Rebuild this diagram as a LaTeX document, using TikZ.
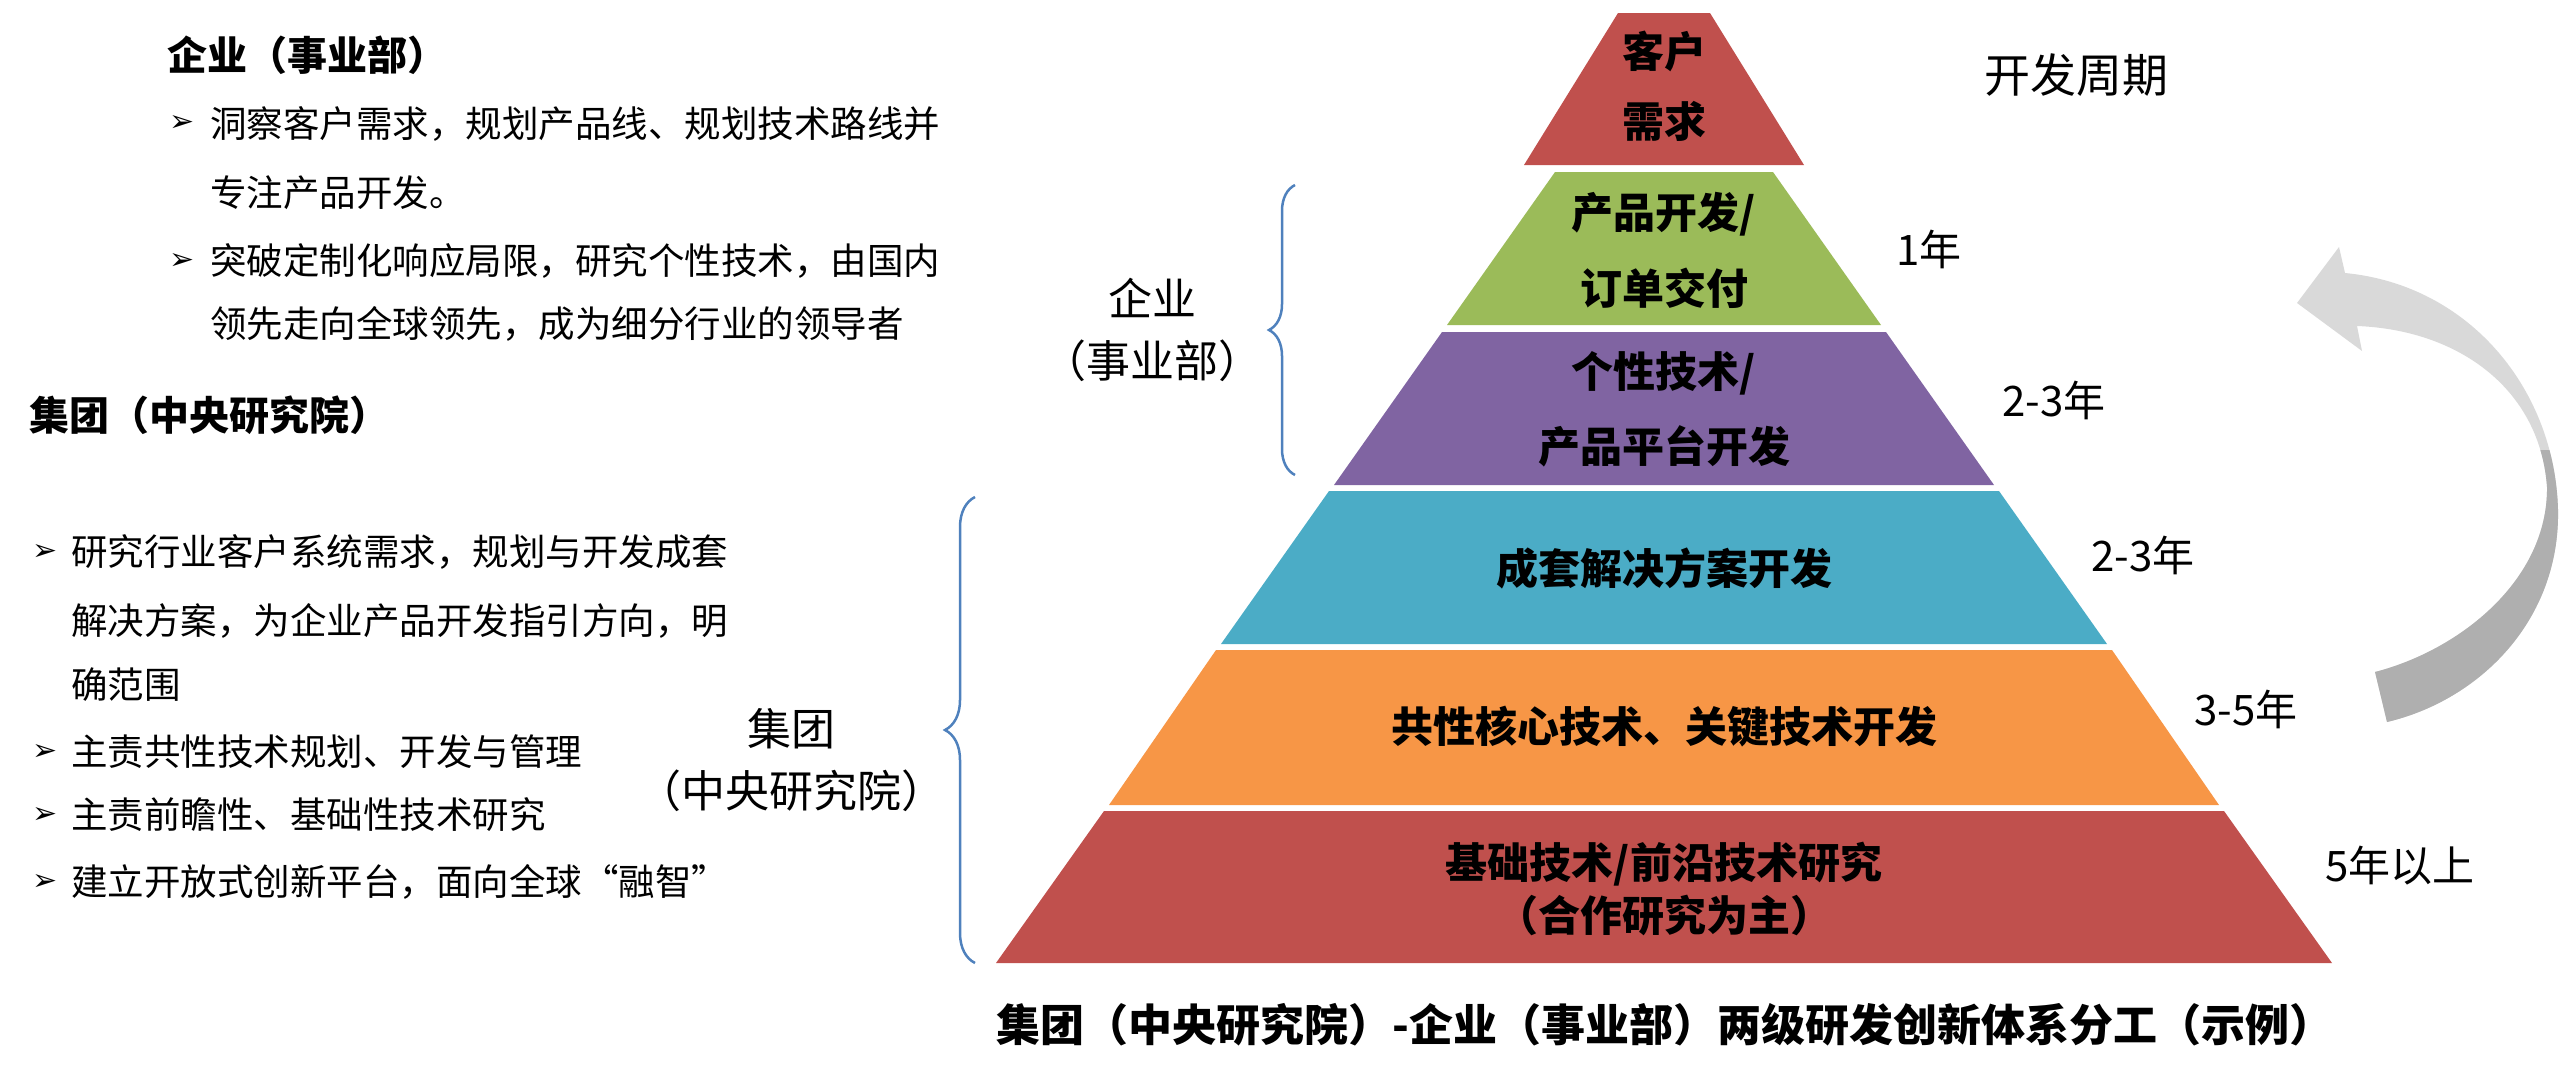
\documentclass[tikz,border=0pt]{standalone}
\usepackage{fontspec}
\setmainfont{Noto Sans CJK SC}
\newfontfamily\symf{DejaVu Sans}
\usetikzlibrary{decorations.pathreplacing}
\definecolor{lred}{HTML}{C0504D}
\definecolor{lgreen}{HTML}{9BBB59}
\definecolor{lpurple}{HTML}{8064A2}
\definecolor{lteal}{HTML}{4BACC6}
\definecolor{lorange}{HTML}{F79646}
\definecolor{bblue}{HTML}{4F81BD}
\definecolor{agray}{HTML}{D9D9D9}
\definecolor{dgray}{HTML}{AFAFAF}
\begin{document}
\begin{tikzpicture}[x=1pt,y=-1pt,
  lay/.style={font=\fontsize{42}{50}\selectfont\bfseries, align=center},
  yr/.style={font=\fontsize{42}{50}\selectfont},
  bl/.style={anchor=west, font=\fontsize{36.5}{44}\selectfont, inner sep=0pt},
  hd/.style={anchor=west, font=\fontsize{40}{48}\selectfont\bfseries, inner sep=0pt},
  bul/.style={anchor=west, font=\symf\fontsize{30}{36}\selectfont, inner sep=0pt},
  brc/.style={draw=bblue, line width=2.5pt, decorate},
  side/.style={font=\fontsize{44}{62}\selectfont, align=center}]
\useasboundingbox (0,0) rectangle (2560,1084);
\def\cx{1664}
% pyramid
\fill[lred]    (\cx-46,13) -- (\cx+46,13) -- (\cx+140,165) -- (\cx-140,165) -- cycle;
\fill[lgreen]  (\cx-109,172) -- (\cx+109,172) -- (\cx+217,325) -- (\cx-217,325) -- cycle;
\fill[lpurple] (\cx-222,332) -- (\cx+222,332) -- (\cx+330,485) -- (\cx-330,485) -- cycle;
\fill[lteal]   (\cx-335,491) -- (\cx+335,491) -- (\cx+443,644) -- (\cx-443,644) -- cycle;
\fill[lorange] (\cx-448,650) -- (\cx+448,650) -- (\cx+555,805) -- (\cx-555,805) -- cycle;
\fill[lred]    (\cx-560,811) -- (\cx+560,811) -- (\cx+668,963) -- (\cx-668,963) -- cycle;
\node[lay] (t1a) at (\cx,51) {客户};
\node[lay] (t1b) at (\cx,121) {需求};
\node[lay] (t2a) at (\cx,214) {产品开发/};
\node[lay] (t2b) at (\cx,288) {订单交付};
\node[lay] (t3a) at (\cx,373) {个性技术/};
\node[lay] (t3b) at (\cx,446) {产品平台开发};
\node[lay] (t4) at (\cx,568) {成套解决方案开发};
\node[lay] (t5) at (\cx,727) {共性核心技术、关键技术开发};
\node[lay] (t6a) at (\cx,864) {基础技术/前沿技术研究};
\node[lay] (t6b) at (\cx,915) {（合作研究为主）};
% cycle labels
\node[font=\fontsize{46}{54}\selectfont] (cyc) at (2076,75) {开发周期};
\node[yr] (y1) at (1929,249) {1年};
\node[yr] (y2) at (2054,400) {2-3年};
\node[yr] (y3) at (2143,555) {2-3年};
\node[yr] (y4) at (2246,709) {3-5年};
\node[yr] (y5) at (2400,866) {5年以上};
% braces
\draw[brc, decoration={brace, amplitude=26pt, mirror}] (1295,185) -- (1295,475);
\node[side] (qy) at (1152,330) {企业\\（事业部）};
\draw[brc, decoration={brace, amplitude=30pt, mirror}] (975,497) -- (975,963);
\node[side] (jt) at (791,760) {集团\\（中央研究院）};
% arrow
\begin{scope}
\path[fill=agray] (2297,303) -- (2339,247) -- (2345,273)
  .. controls (2470,285) and (2555,390) .. (2558,510)
  .. controls (2560,620) and (2480,700) .. (2387,722)
  -- (2375,672)
  .. controls (2460,650) and (2548,580) .. (2547,487)
  .. controls (2540,390) and (2460,330) .. (2357,326)
  -- (2362,351) -- cycle;
\clip (2300,450) rectangle (2560,740);
\path[fill=dgray] (2297,303) -- (2339,247) -- (2345,273)
  .. controls (2470,285) and (2555,390) .. (2558,510)
  .. controls (2560,620) and (2480,700) .. (2387,722)
  -- (2375,672)
  .. controls (2460,650) and (2548,580) .. (2547,487)
  .. controls (2540,390) and (2460,330) .. (2357,326)
  -- (2362,351) -- cycle;
\end{scope}
% left text
\node[hd] (h1) at (167,55) {企业（事业部）};
\node[bul] (b1) at (169,124) {➢};
\node[bl] (l1) at (210,124) {洞察客户需求，规划产品线、规划技术路线并};
\node[bl] (l2) at (210,193) {专注产品开发。};
\node[bul] (b2) at (169,261) {➢};
\node[bl] (l3) at (210,261) {突破定制化响应局限，研究个性技术，由国内};
\node[bl] (l4) at (210,324) {领先走向全球领先，成为细分行业的领导者};
\node[hd] (h2) at (29,415) {集团（中央研究院）};
\node[bul] (b3) at (32,552) {➢};
\node[bl] (m1) at (71,552) {研究行业客户系统需求，规划与开发成套};
\node[bl] (m2) at (71,621) {解决方案，为企业产品开发指引方向，明};
\node[bl] (m3) at (71,685) {确范围};
\node[bul] (b4) at (32,752) {➢};
\node[bl] (m4) at (71,752) {主责共性技术规划、开发与管理};
\node[bul] (b5) at (32,815) {➢};
\node[bl] (m5) at (71,815) {主责前瞻性、基础性技术研究};
\node[bul] (b6) at (32,882) {➢};
\node[bl] (m6) at (71,882) {建立开放式创新平台，面向全球“融智”};
% caption
\node[font=\fontsize{44}{52}\selectfont\bfseries] (cap) at (1665,1025) {集团（中央研究院）-企业（事业部）两级研发创新体系分工（示例）};
\end{tikzpicture}
\end{document}
